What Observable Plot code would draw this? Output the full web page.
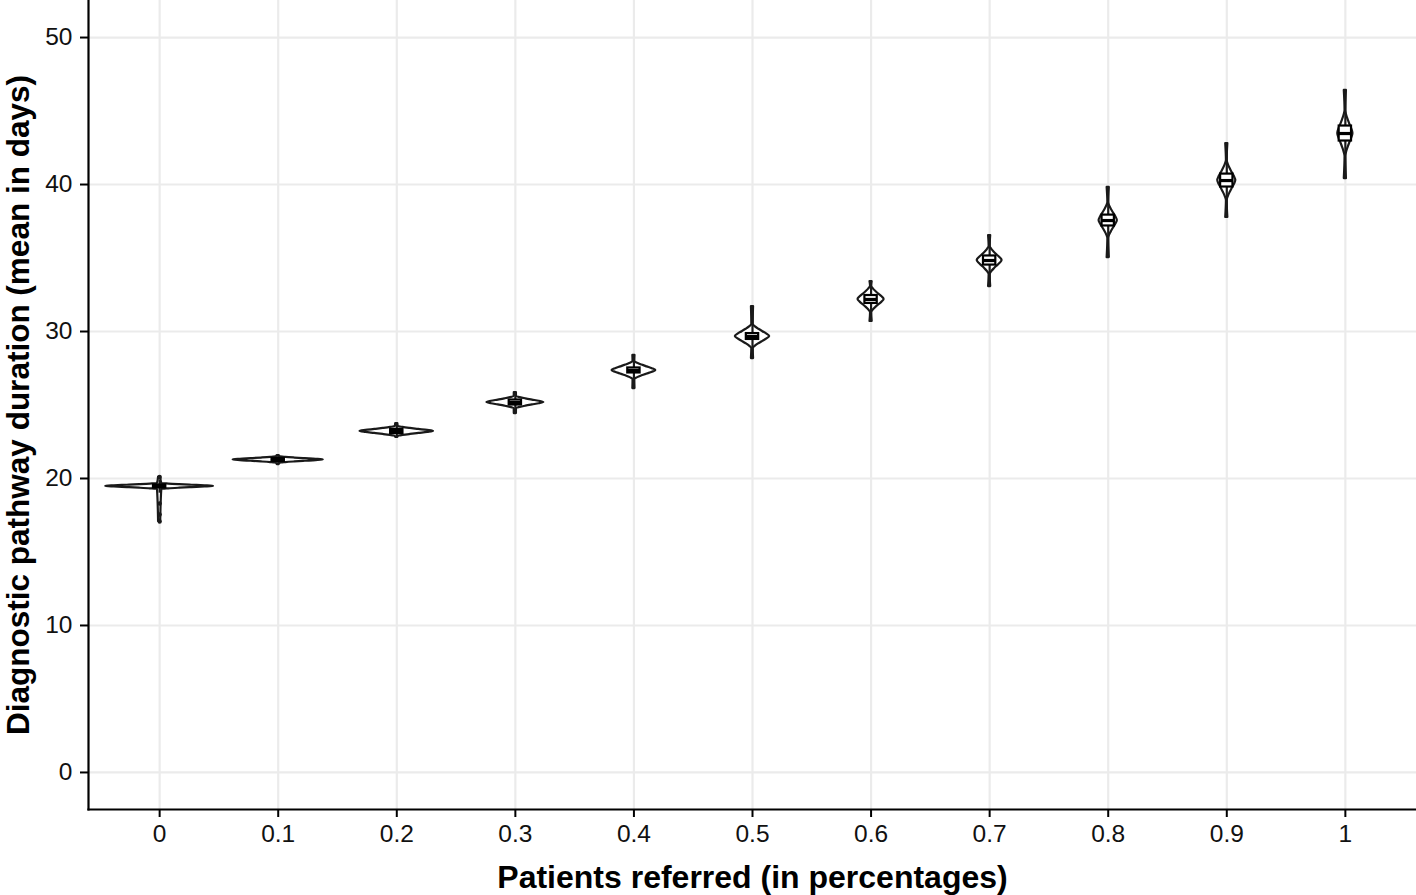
<!DOCTYPE html>
<html>
<head>
<meta charset="utf-8">
<script src="https://cdn.jsdelivr.net/npm/d3@7"></script>
<script src="https://cdn.jsdelivr.net/npm/@observablehq/plot@0.6"></script>
<style>
  html, body { margin: 0; padding: 0; background: #fff; }
  #chart svg { display: block; overflow: visible; }
</style>
</head>
<body>
<div id="chart"></div>
<script>
// Categories: share of patients referred
const categories = [0, 0.1, 0.2, 0.3, 0.4, 0.5, 0.6, 0.7, 0.8, 0.9, 1];
const tickLabels = ["0", "0.1", "0.2", "0.3", "0.4", "0.5", "0.6", "0.7", "0.8", "0.9", "1"];
const yTicks = [0, 10, 20, 30, 40, 50];

// Boxplot statistics (days)
const medians     = [19.46, 21.26, 23.20, 25.17, 27.35, 29.66, 32.18, 34.83, 37.55, 40.27, 43.47];
const q1          = [19.36, 21.16, 23.06, 25.00, 27.18, 29.46, 31.91, 34.52, 37.18, 39.83, 42.96];
const q3          = [19.56, 21.36, 23.34, 25.34, 27.52, 29.86, 32.45, 35.14, 37.92, 40.71, 43.98];
const whiskerLow  = [19.00, 20.95, 22.80, 24.42, 26.12, 28.16, 30.68, 33.06, 35.03, 37.76, 40.40];
const whiskerHigh = [19.90, 21.55, 23.74, 25.85, 28.37, 31.70, 33.40, 36.53, 39.80, 42.79, 46.40];
const outliers0   = [20.1, 18.3, 17.55, 17.07];

// Violin outlines: range, peak half-width (in x units) and body half-height (days)
const violinMin   = [17.07, 20.95, 22.80, 24.42, 26.12, 28.16, 30.68, 33.06, 35.03, 37.76, 40.40];
const violinMax   = [20.10, 21.55, 23.74, 25.85, 28.37, 31.70, 33.40, 36.53, 39.80, 42.79, 46.40];
const violinHalfW = [0.0455, 0.038, 0.031, 0.024, 0.0185, 0.0145, 0.011, 0.0105, 0.0077, 0.0076, 0.0064];
const violinBodyH = [0.20, 0.22, 0.34, 0.41, 0.61, 0.82, 0.90, 0.95, 1.22, 1.36, 1.56];
const profileOffset = [-1, -0.8, -0.6, -0.4, -0.2, 0, 0.2, 0.4, 0.6, 0.8, 1];
const profileWidth  = [0.04, 0.17, 0.37, 0.6, 0.84, 1, 0.84, 0.6, 0.37, 0.17, 0.04];
const tailWidth = 0.0009;

// Build tables
const violinRows = [];
categories.forEach((c, i) => {
  violinRows.push({cat: c, y: violinMin[i], w: tailWidth});
  profileOffset.forEach((o, k) => {
    violinRows.push({cat: c, y: medians[i] + o * violinBodyH[i], w: violinHalfW[i] * profileWidth[k]});
  });
  violinRows.push({cat: c, y: violinMax[i], w: tailWidth});
});
violinRows.forEach(r => { r.x1 = r.cat - r.w; r.x2 = r.cat + r.w; });

const boxHalf = 0.0052;
const boxes = categories.map((c, i) => ({
  cat: c, x1: c - boxHalf, x2: c + boxHalf,
  q1: q1[i], q3: q3[i], med: medians[i], lo: whiskerLow[i], hi: whiskerHigh[i]
}));
const outlierRows = outliers0.map(v => ({cat: 0, y: v}));

const fontFamily = "'Liberation Sans', Arial, Helvetica, sans-serif";
const fmt = d => tickLabels[categories.indexOf(d)];

const chart = Plot.plot({
  width: 1416,
  height: 895,
  marginLeft: 88,
  marginRight: 0,
  marginTop: 0,
  marginBottom: 86,
  style: {fontFamily, fontSize: "24.5px", color: "#111", background: "#fff"},
  x: {domain: [-0.06, 1.06], label: null},
  y: {domain: [-2.52, 52.52], label: null},
  marks: [
    Plot.gridY(yTicks, {stroke: "#ebebeb", strokeOpacity: 1, strokeWidth: 2.2}),
    Plot.gridX(categories, {stroke: "#ebebeb", strokeOpacity: 1, strokeWidth: 2.2}),
    Plot.areaX(violinRows, {y: "y", x1: "x1", x2: "x2", z: "cat", fill: "white", stroke: "#1a1a1a", strokeWidth: 2.2, curve: "monotone-y"}),
    Plot.ruleX(boxes, {x: "cat", y1: "lo", y2: "hi", stroke: "#1a1a1a", strokeWidth: 2.2}),
    Plot.rect(boxes, {x1: "x1", x2: "x2", y1: "q1", y2: "q3", fill: "white", stroke: "black", strokeWidth: 2.2}),
    Plot.ruleY(boxes, {y: "med", x1: "x1", x2: "x2", stroke: "black", strokeWidth: 3.2}),
    Plot.dot(outlierRows, {x: "cat", y: "y", r: 2.2, fill: "#1a1a1a"}),
    Plot.axisX(categories, {tickFormat: fmt, tickSize: 8, tickPadding: 7, stroke: "black", strokeWidth: 2, fill: "#111", label: null}),
    Plot.axisY(yTicks, {tickSize: 8, tickPadding: 8, stroke: "black", strokeWidth: 2, fill: "#111", label: null}),
    Plot.frame({anchor: "left", stroke: "black", strokeWidth: 2.2}),
    Plot.frame({anchor: "bottom", stroke: "black", strokeWidth: 2.2}),
    Plot.text(["Patients referred (in percentages)"], {frameAnchor: "bottom", textAnchor: "middle", lineAnchor: "middle", dy: 68, fontWeight: "bold", fontSize: 32, fill: "black"}),
    Plot.text(["Diagnostic pathway duration (mean in days)"], {frameAnchor: "left", textAnchor: "middle", lineAnchor: "middle", rotate: -90, dx: -70, fontWeight: "bold", fontSize: 31.5, fill: "black"})
  ]
});
document.getElementById("chart").appendChild(chart);
</script>
</body>
</html>
